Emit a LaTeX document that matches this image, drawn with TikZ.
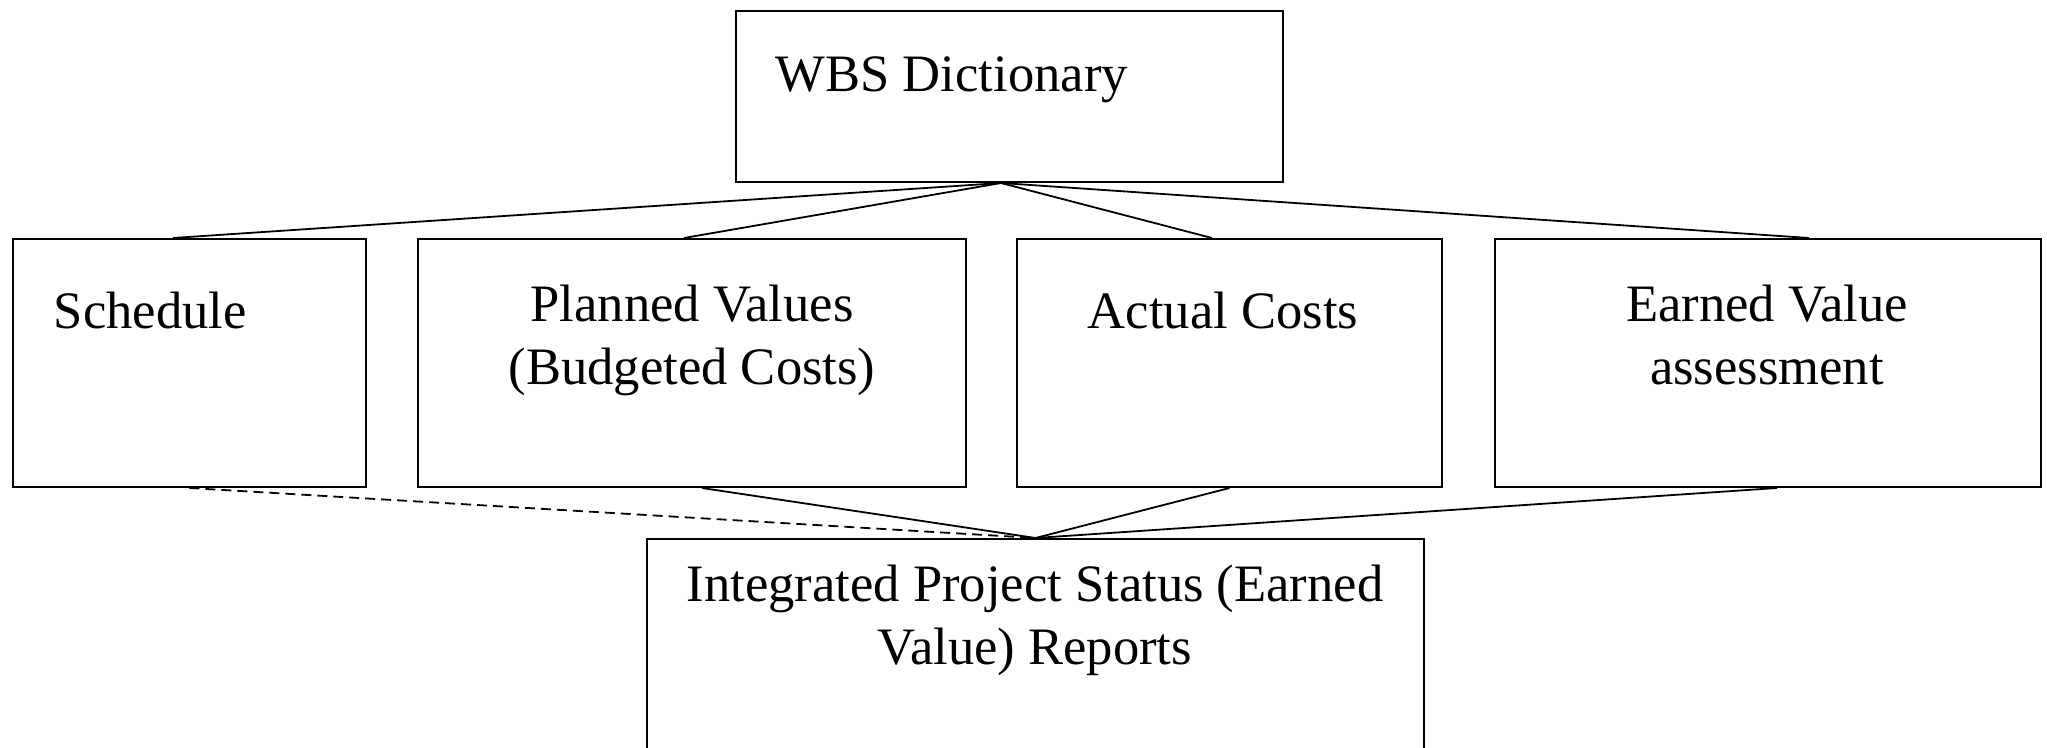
\documentclass[tikz,border=0pt]{standalone}
\usepackage{fontspec}
\setmainfont{Liberation Serif}
\usetikzlibrary{calc}
\begin{document}
\begin{tikzpicture}[x=0.25pt,y=-0.25pt,
  box/.style={draw=black,line width=0.5pt,inner sep=0pt,fill=none},
  txt/.style={inner sep=0pt,font=\fontsize{13.15pt}{15.7pt}\selectfont,align=center},
  link/.style={draw=black,line width=0.45pt},
  dlink/.style={link,dash pattern=on 2.5pt off 1.5pt}]
\useasboundingbox (0,0) rectangle (2047,748);
\clip (0,0) rectangle (2047,748);
% boxes
\node[box,minimum width=136.75pt,minimum height=42.75pt] (wbs) at (1009.5,96.5) {};
\node[box,minimum width=88.25pt,minimum height=62pt] (sched) at (189.5,363) {};
\node[box,minimum width=137pt,minimum height=62pt] (plan) at (692,363) {};
\node[box,minimum width=106.25pt,minimum height=62pt] (act) at (1229.5,363) {};
\node[box,minimum width=136.5pt,minimum height=62pt] (earn) at (1768,363) {};
\node[box,minimum width=194.25pt,minimum height=65pt] (ipr) at (1035.5,669) {};
% texts
\node[txt,anchor=base west] (wbst) at (775,92) {WBS Dictionary};
\node[txt,anchor=base west] (schedt) at (53,329) {Schedule};
\node[txt,anchor=base] (plant) at (692,384) {Planned Values\\(Budgeted Costs)};
\node[txt,anchor=base west] (actt) at (1087,329) {Actual Costs};
\node[txt,anchor=base] (earnt) at (1767,384) {Earned Value\\assessment};
\node[txt,anchor=base] (iprt) at (1035,664) {Integrated Project Status (Earned\\Value) Reports};
% connectors from WBS
\coordinate (top) at ($(wbs.south)+(-8.5,0)$);
\draw[link] (top) -- ($(sched.north)+(-16.5,0)$);
\draw[link] (top) -- ($(plan.north)+(-8,0)$);
\draw[link] (top) -- ($(act.north)+(-17.5,0)$);
\draw[link] (top) -- ($(earn.north)+(41,0)$);
% connectors to report
\draw[dlink] (sched.south) -- (ipr.north);
\draw[link] ($(plan.south)+(10,0)$) -- (ipr.north);
\draw[link] (act.south) -- (ipr.north);
\draw[link] ($(earn.south)+(9,0)$) -- (ipr.north);
\end{tikzpicture}
\end{document}
